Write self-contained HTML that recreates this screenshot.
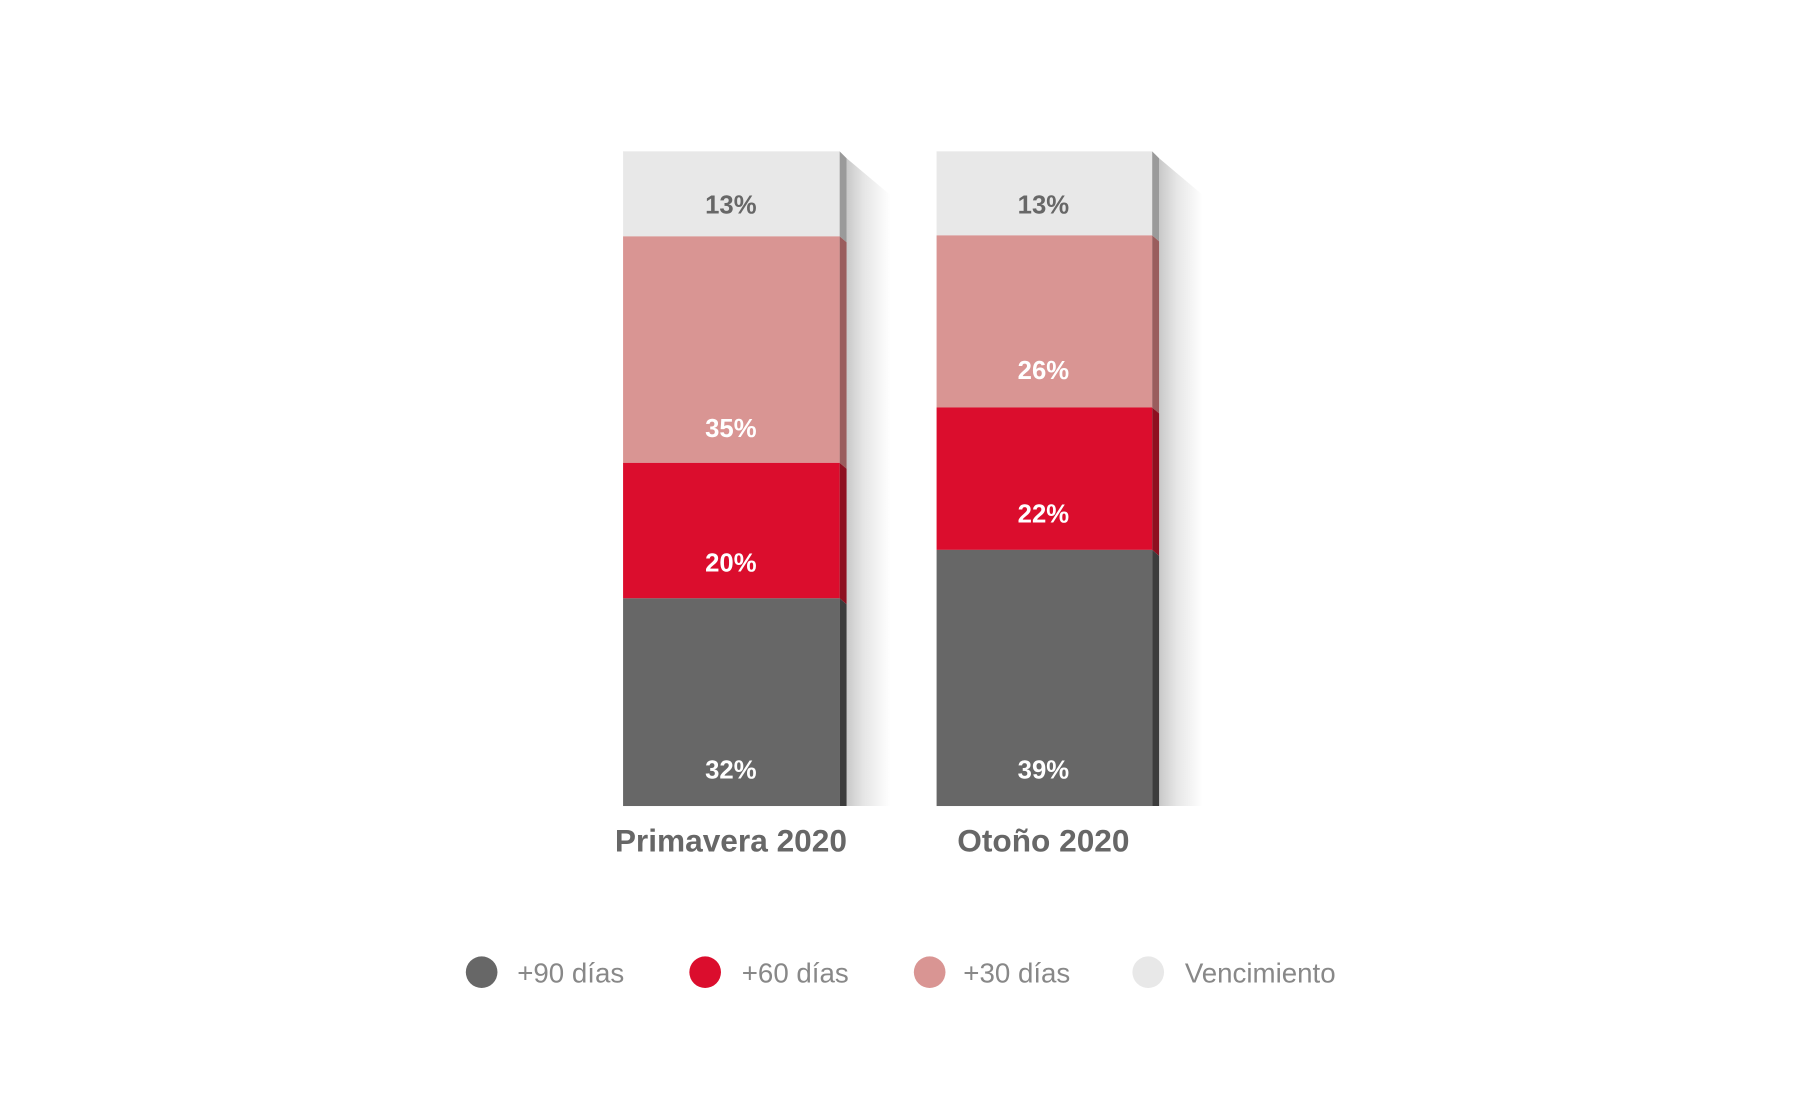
<!DOCTYPE html>
<html><head><meta charset="utf-8"><style>
html,body{margin:0;padding:0;background:#fff;}
svg{display:block;}
text{font-family:"Liberation Sans",sans-serif;}
</style></head><body>
<svg width="1810" height="1100" viewBox="0 0 1810 1100" xmlns="http://www.w3.org/2000/svg">
<defs>
<linearGradient id="sh" x1="0" x2="1" y1="0" y2="0">
<stop offset="0" stop-color="#c8c8c8"/>
<stop offset="0.4" stop-color="#e6e6e6"/>
<stop offset="1" stop-color="#ffffff"/>
</linearGradient>
</defs>
<g transform="scale(0.989)">
<!-- Bar 1 -->
<polygon points="856,160 900,197 900,815 856,815" fill="url(#sh)"/>
<rect x="630" y="153" width="219" height="86" fill="#e8e8e8"/>
<rect x="630" y="239" width="219" height="229" fill="#d99593"/>
<rect x="630" y="468" width="219" height="137" fill="#db0d2d"/>
<rect x="630" y="605" width="219" height="210" fill="#676767"/>
<polygon points="849,153 856,160 856,245 849,239" fill="#9a9a9a"/>
<polygon points="849,239 856,245 856,474 849,468" fill="#9a5d5d"/>
<polygon points="849,468 856,474 856,611 849,605" fill="#8e1020"/>
<polygon points="849,605 856,611 856,815 849,815" fill="#3c3c3c"/>
<!-- Bar 2 -->
<polygon points="1172,160 1216,197 1216,815 1172,815" fill="url(#sh)"/>
<rect x="947" y="153" width="218" height="85" fill="#e8e8e8"/>
<rect x="947" y="238" width="218" height="174" fill="#d99593"/>
<rect x="947" y="412" width="218" height="144" fill="#db0d2d"/>
<rect x="947" y="556" width="218" height="259" fill="#676767"/>
<polygon points="1165,153 1172,160 1172,244 1165,238" fill="#9a9a9a"/>
<polygon points="1165,238 1172,244 1172,418 1165,412" fill="#9a5d5d"/>
<polygon points="1165,412 1172,418 1172,562 1165,556" fill="#8e1020"/>
<polygon points="1165,556 1172,562 1172,815 1165,815" fill="#3c3c3c"/>
<!-- values -->
<g font-weight="bold" font-size="26" text-anchor="middle" dominant-baseline="central">
<text x="739" y="208" fill="#676767">13%</text>
<text x="739" y="434" fill="#fff">35%</text>
<text x="739" y="570" fill="#fff">20%</text>
<text x="739" y="779" fill="#fff">32%</text>
<text x="1055" y="208" fill="#676767">13%</text>
<text x="1055" y="375" fill="#fff">26%</text>
<text x="1055" y="520" fill="#fff">22%</text>
<text x="1055" y="779" fill="#fff">39%</text>
</g>
<g font-weight="bold" font-size="32" text-anchor="middle" fill="#676767" dominant-baseline="central">
<text x="739" y="850">Primavera 2020</text>
<text x="1055" y="850">Otoño 2020</text>
</g>
<!-- legend -->
<circle cx="487" cy="983" r="16" fill="#676767"/>
<circle cx="713" cy="983" r="16" fill="#db0d2d"/>
<circle cx="940" cy="983" r="16" fill="#d99593"/>
<circle cx="1161" cy="983" r="16" fill="#e8e8e8"/>
<g font-size="28" fill="#888" dominant-baseline="central">
<text x="523" y="984">+90 días</text>
<text x="750" y="984">+60 días</text>
<text x="974" y="984">+30 días</text>
<text x="1198" y="984">Vencimiento</text>
</g>
</g>
</svg>
</body></html>
